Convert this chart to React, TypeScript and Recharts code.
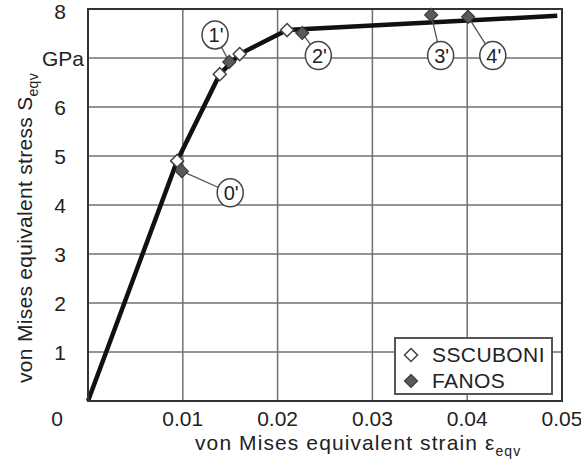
import React from 'react';
import { ComposedChart, Line, Scatter, XAxis, YAxis, CartesianGrid, ReferenceArea, Label } from 'recharts';

// main curve
const curveStrain = [0, 0.0094, 0.0139, 0.016, 0.021, 0.0495];
const curveStress = [0, 4.9, 6.67, 7.08, 7.57, 7.86];

const sscuboniStrain = [0.0094, 0.0139, 0.016, 0.021];
const sscuboniStress = [4.9, 6.67, 7.08, 7.57];

const fanosStrain = [0.0099, 0.0149, 0.0226, 0.0362, 0.0401];
const fanosStress = [4.69, 6.92, 7.51, 7.88, 7.84];

// numbered callouts for the FANOS points
const calloutNames = ["0'", "1'", "2'", "3'", "4'"];
const calloutStrain = [0.015, 0.0134, 0.0243, 0.0372, 0.0427];
const calloutStress = [4.25, 7.47, 7.05, 7.05, 7.05];

const xTicks = [0, 0.01, 0.02, 0.03, 0.04, 0.05];
const yTicks = [0, 1, 2, 3, 4, 5, 6, 7, 8];

const FONT = '"Liberation Sans", Arial, sans-serif';

const curve = curveStrain.map((x, i) => ({ x, y: curveStress[i] }));
const sscuboni = sscuboniStrain.map((x, i) => ({ x, y: sscuboniStress[i] }));
const fanos = fanosStrain.map((x, i) => ({ x, y: fanosStress[i] }));
const callouts = calloutNames.map((name, i) => ({ name, x: calloutStrain[i], y: calloutStress[i] }));
const leaders = calloutNames.map((_, i) => [
  { x: fanosStrain[i], y: fanosStress[i] },
  { x: calloutStrain[i], y: calloutStress[i] },
]);

const diamond = (cx: number, cy: number, r: number) =>
  `M${cx},${cy - r}L${cx + r},${cy}L${cx},${cy + r}L${cx - r},${cy}Z`;

const OpenDiamond = (p: any) => (
  <path d={diamond(p.cx, p.cy, 6.5)} fill="#fff" stroke="#444" strokeWidth={1.5} />
);
const FilledDiamond = (p: any) => (
  <path d={diamond(p.cx, p.cy, 6.5)} fill="#5a5a5a" stroke="#3a3a3a" strokeWidth={1.2} />
);
const Callout = (p: any) => (
  <g>
    <ellipse cx={p.cx} cy={p.cy} rx={13} ry={14} fill="#fff" stroke="#444" strokeWidth={1.5} />
    <text x={p.cx + 1} y={p.cy + 7} textAnchor="middle" fontSize={20} fontFamily={FONT} fill="#222">
      {p.payload.name}
    </text>
  </g>
);

const XTick = (p: any) => {
  const v = p.payload.value;
  return (
    <text x={v === 0 ? p.x - 31 : p.x} y={426} textAnchor="middle" fontSize={21} fontFamily={FONT} fill="#222">
      {v === 0 ? '0' : v.toFixed(2)}
    </text>
  );
};

const YTick = (p: any) => {
  const v = p.payload.value;
  if (v === 0) return null;
  if (v === 7)
    return (
      <text x={84} y={p.y + 8} textAnchor="end" fontSize={21} fontFamily={FONT} fill="#222">
        GPa
      </text>
    );
  return (
    <text x={60} y={v === 8 ? p.y + 10 : p.y + 8} textAnchor="middle" fontSize={21} fontFamily={FONT} fill="#222">
      {v}
    </text>
  );
};

export default function App() {
  return (
    <div style={{ position: 'absolute', left: 0, top: 0, width: 581, height: 463, background: '#fff' }}>
      <ComposedChart width={581} height={463} margin={{ top: 9, right: 19, left: 0, bottom: 0 }}>
        <CartesianGrid stroke="#707070" strokeWidth={1.5} />
        <XAxis
          type="number"
          dataKey="x"
          domain={[0, 0.05]}
          ticks={xTicks}
          height={62}
          tickSize={0}
          tickLine={false}
          axisLine={{ stroke: '#333', strokeWidth: 2 }}
          tick={<XTick />}
        >
          <Label
            content={() => (
              <text x={195} y={450} fontSize={21} fontFamily={FONT} fill="#222" letterSpacing={1.1}>
                von Mises equivalent strain ε
                <tspan fontSize={14} dy={6}>eqv</tspan>
              </text>
            )}
          />
        </XAxis>
        <YAxis
          type="number"
          dataKey="y"
          domain={[0, 8]}
          ticks={yTicks}
          width={88}
          tickSize={0}
          tickLine={false}
          axisLine={{ stroke: '#333', strokeWidth: 2 }}
          tick={<YTick />}
        >
          <Label
            content={() => (
              <text transform="translate(32,383) rotate(-90)" fontSize={21} fontFamily={FONT} fill="#222" letterSpacing={0.3}>
                von Mises equivalent stress S
                <tspan fontSize={14} dy={6}>eqv</tspan>
              </text>
            )}
          />
        </YAxis>
        <ReferenceArea x1={0} x2={0.05} y1={0} y2={8} fill="none" stroke="#333" strokeWidth={2} />
        <Line
          data={curve}
          dataKey="y"
          stroke="#111"
          strokeWidth={4.5}
          dot={false}
          isAnimationActive={false}
          legendType="none"
        />
        {leaders.map((seg, i) => (
          <Line
            key={i}
            data={seg}
            dataKey="y"
            stroke="#555"
            strokeWidth={1.3}
            dot={false}
            isAnimationActive={false}
            legendType="none"
          />
        ))}
        <Scatter name="SSCUBONI" data={sscuboni} dataKey="y" shape={<OpenDiamond />} isAnimationActive={false} />
        <Scatter name="FANOS" data={fanos} dataKey="y" shape={<FilledDiamond />} isAnimationActive={false} />
        <Scatter data={callouts} dataKey="y" shape={<Callout />} isAnimationActive={false} legendType="none" />
      </ComposedChart>
      <div
        style={{
          position: 'absolute',
          left: 394,
          top: 337,
          width: 155,
          height: 54,
          background: '#fff',
          border: '2px solid #555',
          fontFamily: FONT,
          fontSize: 21,
          color: '#222',
        }}
      >
        {[
          ['SSCUBONI', OpenDiamond],
          ['FANOS', FilledDiamond],
        ].map(([name, Shape]: any, i) => (
          <div key={name} style={{ position: 'absolute', left: 6, top: 4 + i * 26, height: 24, display: 'flex', alignItems: 'center' }}>
            <svg width={18} height={18}>
              <Shape cx={9} cy={9} />
            </svg>
            <span style={{ marginLeft: 12, lineHeight: '24px', letterSpacing: 0.4 }}>{name}</span>
          </div>
        ))}
      </div>
    </div>
  );
}
